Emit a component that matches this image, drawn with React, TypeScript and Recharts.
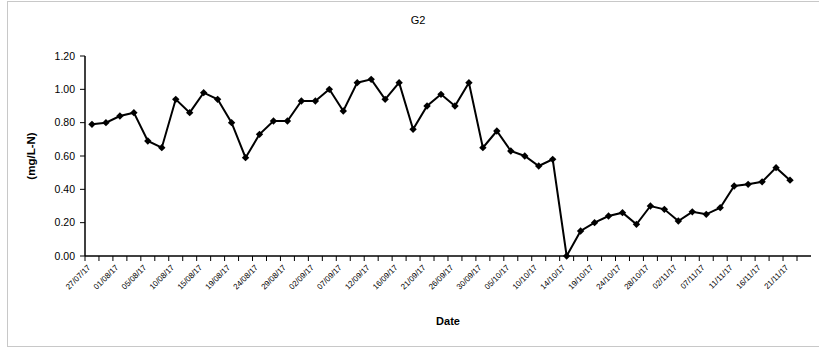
import React from "react";
import { LineChart, Line, XAxis, YAxis, Label } from "recharts";

// sampling dates (every other one is printed on the axis)
const dates = [
  "27/07/17", "29/07/17", "01/08/17", "03/08/17", "05/08/17", "08/08/17",
  "10/08/17", "12/08/17", "15/08/17", "17/08/17", "19/08/17", "22/08/17",
  "24/08/17", "26/08/17", "29/08/17", "31/08/17", "02/09/17", "05/09/17",
  "07/09/17", "09/09/17", "12/09/17", "14/09/17", "16/09/17", "19/09/17",
  "21/09/17", "23/09/17", "26/09/17", "28/09/17", "30/09/17", "03/10/17",
  "05/10/17", "07/10/17", "10/10/17", "12/10/17", "14/10/17", "17/10/17",
  "19/10/17", "21/10/17", "24/10/17", "26/10/17", "28/10/17", "31/10/17",
  "02/11/17", "04/11/17", "07/11/17", "09/11/17", "11/11/17", "14/11/17",
  "16/11/17", "18/11/17", "21/11/17",
];

const g2 = [
  0.79, 0.8, 0.84, 0.86, 0.69, 0.65, 0.94, 0.86, 0.98, 0.94,
  0.8, 0.59, 0.73, 0.81, 0.81, 0.93, 0.93, 1.0, 0.87, 1.04,
  1.06, 0.94, 1.04, 0.76, 0.9, 0.97, 0.9, 1.04, 0.65, 0.75,
  0.63, 0.6, 0.54, 0.58, 0.0, 0.15, 0.2, 0.24, 0.26, 0.19,
  0.3, 0.28, 0.21, 0.265, 0.25, 0.29, 0.42, 0.43, 0.445, 0.53,
  0.455,
];

const yTicks = [0, 0.2, 0.4, 0.6, 0.8, 1.0, 1.2];

const data = dates.map((date, i) => ({ date, value: g2[i] }));

const FONT = '"Liberation Sans", Arial, Helvetica, sans-serif';
const PLOT_W = 726;
const PAD_RIGHT = 14;
const HALF_BAND = (PLOT_W - PAD_RIGHT) / dates.length / 2;

const Diamond = (props: any) => {
  const { cx, cy } = props;
  if (cx == null || cy == null) return null;
  const r = 3.7;
  return (
    <path
      d={`M${cx},${cy - r}L${cx + r},${cy}L${cx},${cy + r}L${cx - r},${cy}Z`}
      fill="#000"
    />
  );
};

const DateTick = (props: any) => {
  const { x, y, payload, index } = props;
  const last = index === dates.length - 1;
  const tx = x - 1;
  const ty = y + 12;
  return (
    <g>
      <line x1={x - HALF_BAND} x2={x - HALF_BAND} y1={y} y2={y + 5} stroke="#000" />
      {last && (
        <line x1={x + HALF_BAND} x2={x + HALF_BAND} y1={y} y2={y + 5} stroke="#000" />
      )}
      {index % 2 === 0 && (
        <text
          x={tx}
          y={ty}
          transform={`rotate(-45, ${tx}, ${ty})`}
          textAnchor="end"
          fontSize={8}
          fill="#000"
          fontFamily={FONT}
        >
          {payload.value}
        </text>
      )}
    </g>
  );
};

const App: React.FC = () => {
  return (
    <div
      style={{
        position: "absolute",
        left: 0,
        top: 0,
        width: 819,
        height: 348,
        overflow: "hidden",
        background: "#fff",
        fontFamily: FONT,
      }}
    >
      <div
        style={{
          position: "absolute",
          left: 7,
          top: 1,
          width: 840,
          height: 344,
          border: "1px solid #c8c8c8",
        }}
      />
      <div
        style={{
          position: "absolute",
          left: 368,
          width: 100,
          top: 14,
          textAlign: "center",
          fontSize: 11,
          color: "#000",
        }}
      >
        G2
      </div>
      <LineChart
        width={819}
        height={348}
        data={data}
        margin={{ top: 56, right: 8, bottom: 12, left: 25 }}
        style={{ position: "absolute", left: 0, top: 0 }}
      >
        <XAxis
          xAxisId="top"
          orientation="top"
          dataKey="date"
          tick={false}
          tickLine={false}
          height={0}
          axisLine={{ stroke: "#a8a8a8" }}
        />
        <YAxis
          yAxisId="right"
          orientation="right"
          domain={[0, 1.2]}
          tick={false}
          tickLine={false}
          width={0}
          axisLine={{ stroke: "#a8a8a8" }}
        />
        <XAxis
          dataKey="date"
          scale="band"
          interval={0}
          padding={{ left: 0, right: PAD_RIGHT }}
          height={80}
          tickSize={0}
          tickMargin={0}
          tickLine={false}
          axisLine={{ stroke: "#000", strokeWidth: 1.5 }}
          tick={<DateTick />}
        >
          <Label
            content={({ viewBox }: any) => (
              <text
                x={viewBox.x + viewBox.width / 2}
                y={325}
                textAnchor="middle"
                fontSize={11}
                fontWeight="bold"
                fill="#000"
                fontFamily={FONT}
              >
                Date
              </text>
            )}
          />
        </XAxis>
        <YAxis
          domain={[0, 1.2]}
          ticks={yTicks}
          interval={0}
          width={60}
          tickSize={5}
          tickMargin={5}
          tickFormatter={(v: number) => v.toFixed(2)}
          tick={{ fontSize: 10.5, fill: "#000", fontFamily: FONT }}
          tickLine={{ stroke: "#000" }}
          axisLine={{ stroke: "#000", strokeWidth: 1.5 }}
        >
          <Label
            content={({ viewBox }: any) => {
              const lx = 35;
              const ly = viewBox.y + viewBox.height / 2;
              return (
                <text
                  x={lx}
                  y={ly}
                  transform={`rotate(-90, ${lx}, ${ly})`}
                  textAnchor="middle"
                  fontSize={11.5}
                  fontWeight="bold"
                  fill="#000"
                  fontFamily={FONT}
                >
                  (mg/L-N)
                </text>
              );
            }}
          />
        </YAxis>
        <Line
          type="linear"
          dataKey="value"
          stroke="#000"
          strokeWidth={2}
          dot={<Diamond />}
          activeDot={false}
          isAnimationActive={false}
        />
      </LineChart>
    </div>
  );
};

export default App;
